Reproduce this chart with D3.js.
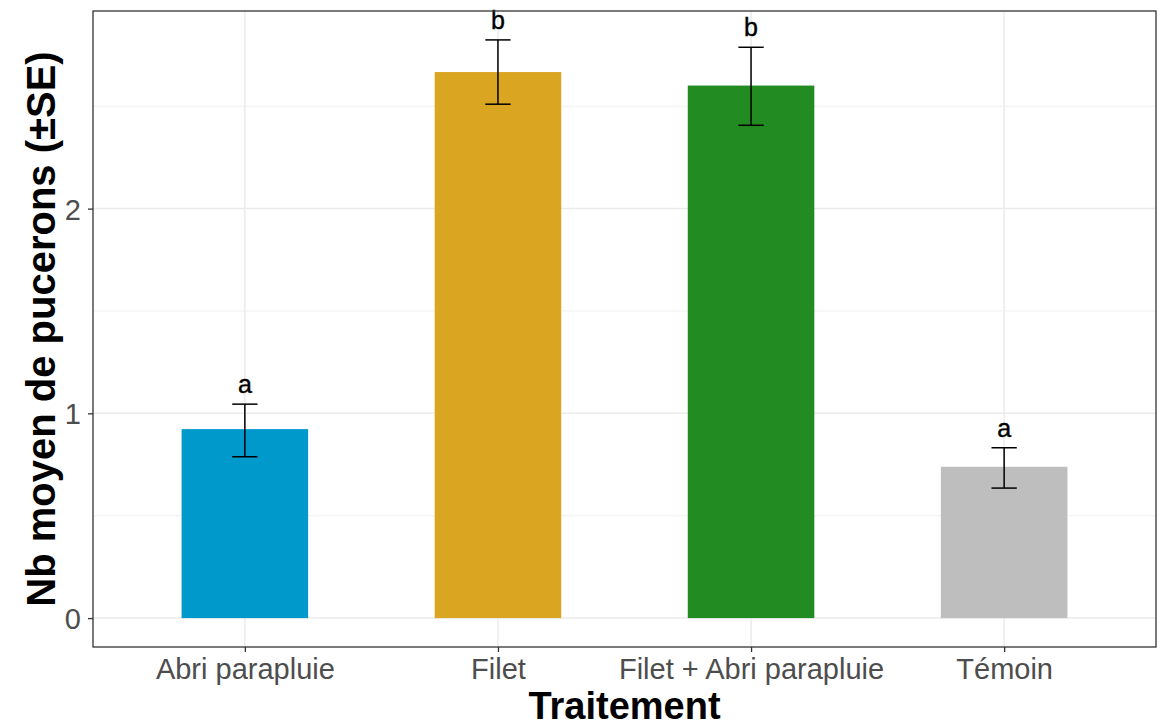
<!DOCTYPE html>
<html>
<head>
<meta charset="utf-8">
<script src="https://cdn.jsdelivr.net/npm/d3@7"></script>
<style>
  body { margin: 0; background: #fff; }
  text { font-family: "Liberation Sans", Arial, sans-serif; }
</style>
</head>
<body>
<div id="chart"></div>
<script>
const categories = ["Abri parapluie", "Filet", "Filet + Abri parapluie", "Témoin"];
const means = [0.923, 2.667, 2.601, 0.739];
const lower = [0.788, 2.510, 2.407, 0.635];
const upper = [1.045, 2.824, 2.788, 0.832];
const letters = ["a", "b", "b", "a"];
const colors = ["#0099CC", "#DAA520", "#228B22", "#BEBEBE"];
const yTicks = [0, 1, 2];
const yMinor = [0.5, 1.5, 2.5];

const width = 1166, height = 727;
const margin = { left: 93, right: 10, top: 11, bottom: 80 };

const svg = d3.select('#chart').append('svg')
    .attr('width', width)
    .attr('height', height);

const x = d3.scalePoint()
    .domain(categories)
    .range([margin.left, width - margin.right])
    .padding(0.6);
const step = x.step();

const yMax = d3.max(upper), yMin = 0;
const pad = (yMax - yMin) * 0.05;
const y = d3.scaleLinear()
    .domain([yMin - pad, yMax + pad])
    .range([height - margin.bottom, margin.top]);

const data = categories.map((c, i) => ({
    cat: c, mean: means[i], lo: lower[i], hi: upper[i], letter: letters[i], color: colors[i]
}));

// grid
const grid = svg.append('g');
grid.selectAll('.minor')
    .data(yMinor)
    .enter().append('line')
    .attr('x1', margin.left).attr('x2', width - margin.right)
    .attr('y1', d => y(d)).attr('y2', d => y(d))
    .attr('stroke', '#EBEBEB').attr('stroke-width', 0.8);
grid.selectAll('.major')
    .data(yTicks)
    .enter().append('line')
    .attr('x1', margin.left).attr('x2', width - margin.right)
    .attr('y1', d => y(d)).attr('y2', d => y(d))
    .attr('stroke', '#EBEBEB').attr('stroke-width', 1.5);
grid.selectAll('.vmajor')
    .data(categories)
    .enter().append('line')
    .attr('x1', d => x(d)).attr('x2', d => x(d))
    .attr('y1', margin.top).attr('y2', height - margin.bottom)
    .attr('stroke', '#EBEBEB').attr('stroke-width', 1.5);

// bars
svg.append('g').selectAll('rect')
    .data(data)
    .enter().append('rect')
    .attr('x', d => x(d.cat) - step * 0.25)
    .attr('width', step * 0.5)
    .attr('y', d => y(d.mean))
    .attr('height', d => y(0) - y(d.mean))
    .attr('fill', d => d.color);

// error bars
const eb = svg.append('g').attr('stroke', 'black').attr('stroke-width', 1.5);
eb.selectAll('.v')
    .data(data)
    .enter().append('line')
    .attr('x1', d => x(d.cat)).attr('x2', d => x(d.cat))
    .attr('y1', d => y(d.lo)).attr('y2', d => y(d.hi));
eb.selectAll('.t')
    .data(data)
    .enter().append('line')
    .attr('x1', d => x(d.cat) - step * 0.05).attr('x2', d => x(d.cat) + step * 0.05)
    .attr('y1', d => y(d.hi)).attr('y2', d => y(d.hi));
eb.selectAll('.b')
    .data(data)
    .enter().append('line')
    .attr('x1', d => x(d.cat) - step * 0.05).attr('x2', d => x(d.cat) + step * 0.05)
    .attr('y1', d => y(d.lo)).attr('y2', d => y(d.lo));

// letters
svg.append('g').selectAll('text')
    .data(data)
    .enter().append('text')
    .attr('x', d => x(d.cat))
    .attr('y', d => y(d.hi) - 11)
    .attr('text-anchor', 'middle')
    .attr('font-size', 25)
    .attr('fill', 'black')
    .attr('stroke', 'black')
    .attr('stroke-width', 0.4)
    .text(d => d.letter);

// panel border
svg.append('rect')
    .attr('x', margin.left).attr('y', margin.top)
    .attr('width', width - margin.right - margin.left)
    .attr('height', height - margin.bottom - margin.top)
    .attr('fill', 'none')
    .attr('stroke', '#333333')
    .attr('stroke-width', 1.3);

// axes
const yAxis = svg.append('g')
    .attr('transform', `translate(${margin.left},0)`)
    .call(d3.axisLeft(y).tickValues(yTicks).tickFormat(d3.format('d')).tickSize(5).tickPadding(7));
const xAxis = svg.append('g')
    .attr('transform', `translate(0,${height - margin.bottom})`)
    .call(d3.axisBottom(x).tickSize(5).tickPadding(6));
[yAxis, xAxis].forEach(a => {
    a.select('.domain').remove();
    a.selectAll('.tick line').attr('stroke', '#333333').attr('stroke-width', 1.3);
    a.selectAll('.tick text')
        .attr('fill', '#4D4D4D')
        .attr('font-size', 29)
        .style('font-family', '"Liberation Sans", Arial, sans-serif');
});
yAxis.selectAll('.tick text').attr('dy', '0.36em');
xAxis.selectAll('.tick text').attr('dy', '0.71em');

// titles
svg.append('text')
    .attr('x', (margin.left + width - margin.right) / 2)
    .attr('y', 719)
    .attr('text-anchor', 'middle')
    .attr('font-size', 38)
    .attr('font-weight', 'bold')
    .text('Traitement');
svg.append('text')
    .attr('transform', `translate(55,${(margin.top + height - margin.bottom) / 2}) rotate(-90)`)
    .attr('text-anchor', 'middle')
    .attr('font-size', 40)
    .attr('font-weight', 'bold')
    .text('Nb moyen de pucerons (±SE)');
</script>
</body>
</html>
